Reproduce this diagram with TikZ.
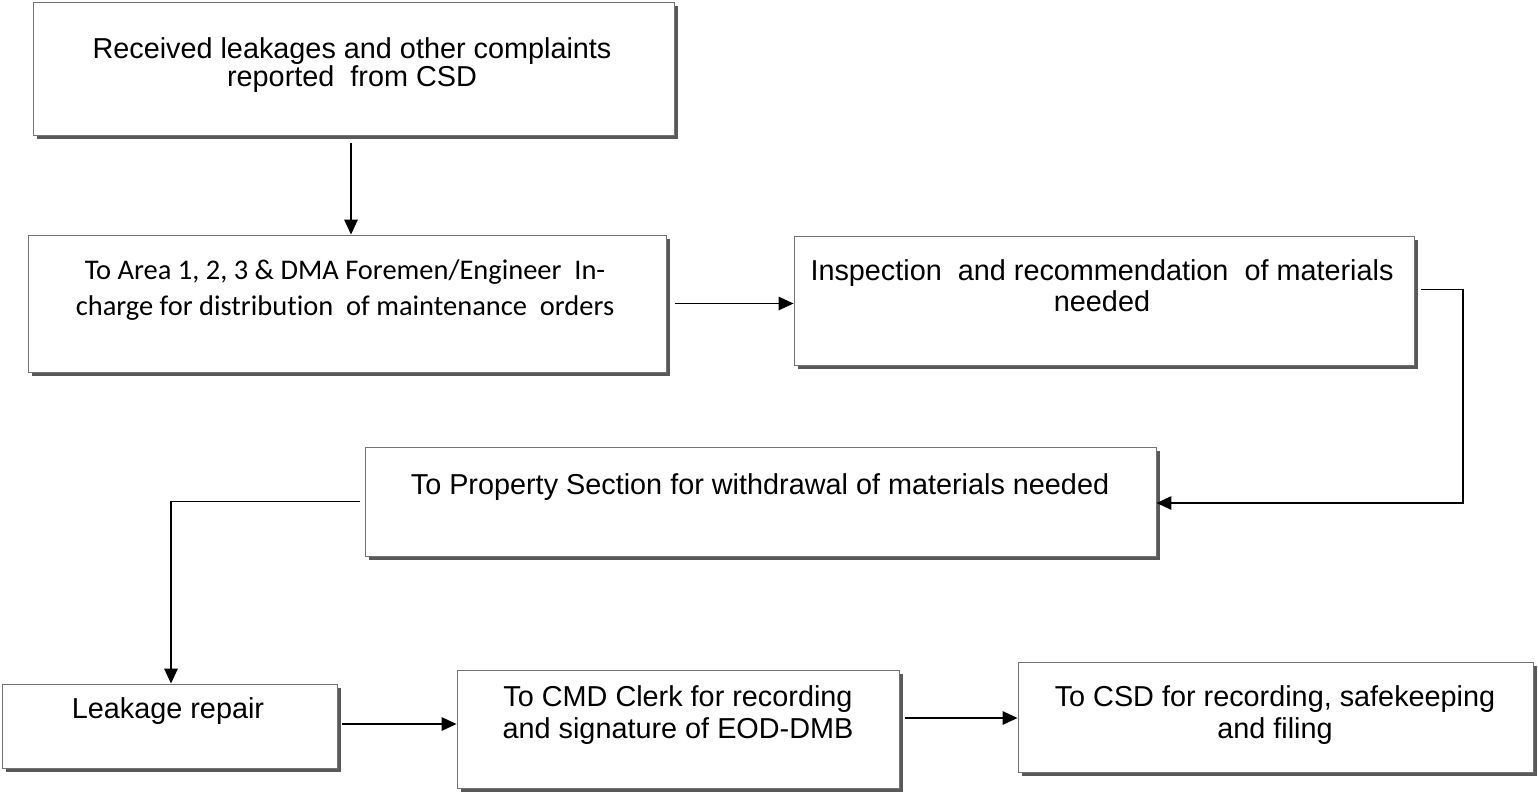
\documentclass[tikz,border=0pt]{standalone}
\usepackage{fontspec}
\setmainfont{Liberation Sans}
\newfontfamily\calfont[Ligatures=NoCommon]{Carlito}
\usetikzlibrary{arrows.meta,shadows}
\begin{document}
\begin{tikzpicture}[x=0.02cm,y=-0.02cm,
  box/.style={draw=black!55, line width=0.5pt, fill=white, rectangle, inner sep=0pt,
    drop shadow={shadow xshift=0.08cm, shadow yshift=-0.08cm, fill=black!65, opacity=1}},
  txt/.style={align=center, inner sep=0pt, font=\fontsize{16.4}{14.7}\selectfont},
  flow/.style={draw=black, line width=0.85pt, -{Triangle[length=0.3cm,width=0.27cm]}}]
\useasboundingbox (0,0) rectangle (1538,792);
% boxes
\node[box, minimum width=641*0.02cm, minimum height=133*0.02cm] (b1) at (353.5,68.5) {};
\node[box, minimum width=638*0.02cm, minimum height=137*0.02cm] (b2) at (347,303.5) {};
\node[box, minimum width=620*0.02cm, minimum height=129*0.02cm] (b3) at (1104,300.5) {};
\node[box, minimum width=791*0.02cm, minimum height=109*0.02cm] (b4) at (760.5,501.5) {};
\node[box, minimum width=335*0.02cm, minimum height=84*0.02cm] (b5) at (169.5,726) {};
\node[box, minimum width=442*0.02cm, minimum height=118*0.02cm] (b6) at (678,729) {};
\node[box, minimum width=515*0.02cm, minimum height=110*0.02cm] (b7) at (1275.5,717) {};
% texts
\node[txt] (t1) at (352,65) {Received\ leakages and other complaints\\reported\ \ from CSD};
\node[txt, font=\calfont\fontsize{16.2}{20.4}\selectfont] (t2) at (345,290) {To Area 1, 2, 3 \& DMA Foremen/Engineer\ \ In-\\charge for distribution\ \ of maintenance\ \ orders};
\node[txt, font=\fontsize{16.4}{17.6}\selectfont] (t3) at (1102,285.5) {Inspection\ \ and recommendation\ \ of materials\\needed};
\node[txt] (t4) at (760,487) {To Property Section for withdrawal of materials needed};
\node[txt] (t5) at (168,711) {Leakage repair};
\node[txt, font=\fontsize{16.4}{18}\selectfont] (t6) at (678,715) {To CMD Clerk for recording\\and signature of EOD-DMB};
\node[txt, font=\fontsize{16.4}{18}\selectfont] (t7) at (1275,715) {To CSD for recording, safekeeping\\and filing};
% connectors
\coordinate (a1) at (351,143);
\coordinate (c1) at (1463,503);
\draw[flow] (a1) -- (a1 |- b2.north);
\draw[flow] ([xshift=0.18cm]b2.east) -- (b2.east -| b3.west);
\draw[flow] ([xshift=0.14cm,yshift=0.22cm]b3.east) -| (c1) -- (c1 -| b4.east);
\draw[flow] ([xshift=-0.1cm]b4.west) -| ([xshift=0.03cm]b5.north);
\draw[flow] ([xshift=0.1cm,yshift=0.04cm]b5.east) -- ([yshift=0.04cm]b5.east -| b6.west);
\draw[flow] ([xshift=0.12cm,yshift=0.22cm]b6.east) -- ([yshift=0.22cm]b6.east -| b7.west);
\end{tikzpicture}
\end{document}
